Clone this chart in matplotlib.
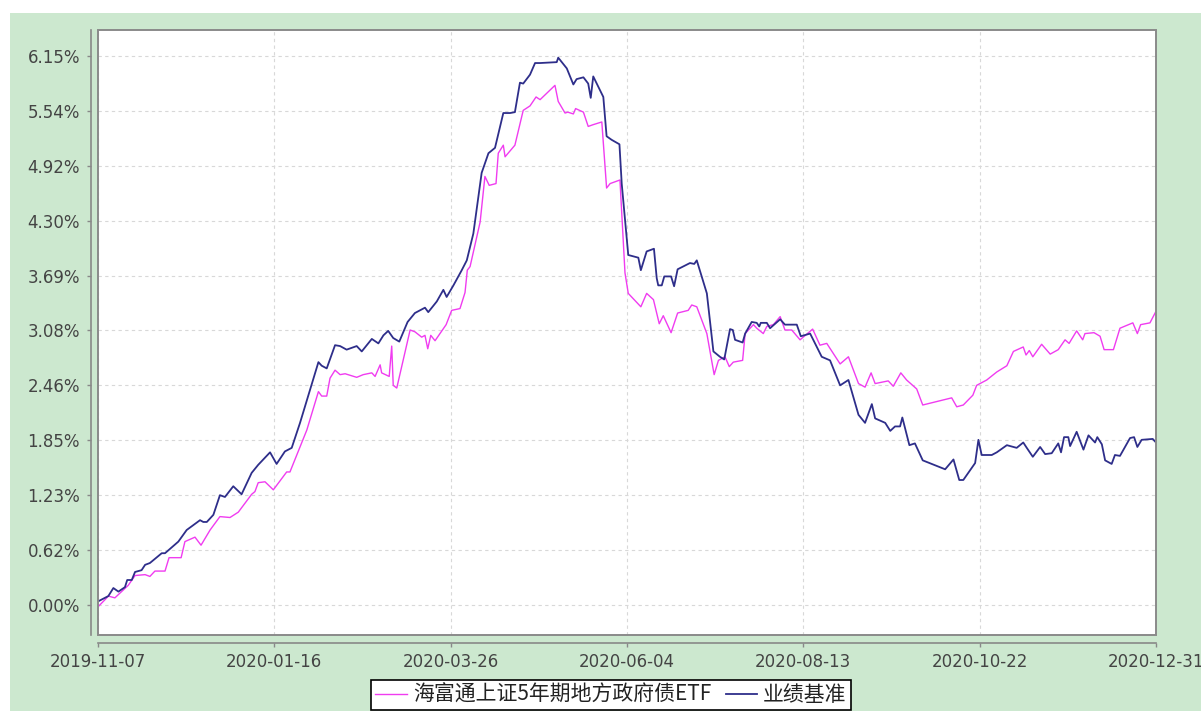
import numpy as np
import pandas as pd
import matplotlib
matplotlib.use('Agg')
import matplotlib.pyplot as plt
import matplotlib.dates as mdates
from matplotlib.patches import Rectangle

plt.rcParams['font.family'] = ['DejaVu Sans', 'Noto Sans CJK SC']

start = pd.Timestamp('2019-11-07')
end = pd.Timestamp('2020-12-31')

# days since 2019-11-07, cumulative return in %
fund_days = [0, 2.8, 4.1, 6.7, 12.0, 14.7, 18.7, 20.6, 22.6, 26.6, 28.2, 33.0, 34.5, 38.5, 40.9,
             44.5, 48.4, 52.4, 55.7, 61.0, 62.3, 63.6, 66.3, 69.6, 74.9, 76.2, 82.9, 87.5, 88.8,
             90.8, 92.1, 94.1, 96.1, 98.1, 102.7, 105.3, 108.7, 110.0, 112.0, 112.6, 115.6, 116.6,
             117.2, 118.6, 123.9, 125.8, 128.5, 129.8, 130.9, 132.1, 133.8, 138.2, 140.4, 143.7,
             145.7, 146.6, 147.7, 151.7, 153.6, 155.3, 158.0, 158.9, 160.9, 161.6, 165.5, 168.8,
             171.5, 173.9, 175.5, 181.4, 182.7, 185.4, 186.5, 188.7, 189.6, 192.7, 194.6, 196.6,
             200.0, 201.9, 203.3, 207.2, 209.2, 210.5, 215.5, 217.8, 220.5, 222.8, 224.4, 227.5,
             230.1, 234.3, 235.7, 237.7, 241.7, 244.6, 246.3, 248.9, 250.6, 252.2, 255.9, 256.9,
             260.2, 261.5, 264.1, 265.5, 268.1, 270.8, 272.7, 275.4, 278.7, 283.7, 286.6, 289.3,
             294.6, 297.9, 301.9, 304.5, 306.9, 308.5, 313.7, 315.7, 318.7, 321.0, 325.0, 327.4,
             338.9, 340.9, 343.5, 347.3, 348.8, 352.8, 356.8, 360.8, 363.4, 367.3, 368.4, 369.7,
             371.1, 374.6, 378.0, 381.2, 383.9, 385.5, 388.5, 390.9, 391.8, 395.4, 397.8, 399.4,
             403.1, 405.7, 410.8, 412.6, 413.9, 417.6, 420.0]
fund_vals = [-0.02, 0.06, 0.10, 0.08, 0.22, 0.33, 0.34, 0.32, 0.38, 0.38, 0.53, 0.53, 0.71, 0.76, 0.67,
             0.84, 0.99, 0.98, 1.04, 1.24, 1.27, 1.37, 1.38, 1.29, 1.49, 1.49, 1.96, 2.39, 2.34,
             2.34, 2.54, 2.63, 2.58, 2.59, 2.55, 2.58, 2.60, 2.56, 2.69, 2.60, 2.56, 2.90,
             2.46, 2.43, 3.08, 3.06, 3.00, 3.02, 2.87, 3.02, 2.96, 3.14, 3.30, 3.32,
             3.50, 3.75, 3.79, 4.29, 4.80, 4.70, 4.72, 5.06, 5.15, 5.02, 5.15, 5.54,
             5.59, 5.69, 5.66, 5.82, 5.64, 5.51, 5.52, 5.50, 5.56, 5.52, 5.36, 5.38,
             5.41, 4.67, 4.72, 4.76, 3.72, 3.49, 3.34, 3.49, 3.42, 3.15, 3.24, 3.05,
             3.27, 3.30, 3.36, 3.34, 3.04, 2.58, 2.74, 2.78, 2.67, 2.72, 2.74, 3.04,
             3.14, 3.10, 3.04, 3.12, 3.14, 3.23, 3.08, 3.08, 2.97, 3.09, 2.91, 2.93,
             2.70, 2.78, 2.48, 2.44, 2.60, 2.48, 2.51, 2.45, 2.60, 2.52, 2.42, 2.24,
             2.32, 2.22, 2.24, 2.35, 2.46, 2.52, 2.61, 2.68, 2.84, 2.89, 2.80, 2.85,
             2.78, 2.92, 2.81, 2.86, 2.97, 2.93, 3.07, 2.97, 3.04, 3.05, 3.01, 2.86,
             2.86, 3.10, 3.16, 3.04, 3.14, 3.16, 3.29]

bench_days = [0, 4.1, 6.1, 8.1, 10.7, 11.6, 13.4, 14.7, 17.3, 18.7, 20.6, 25.3, 26.6, 31.9, 35.2,
              40.5, 41.8, 43.2, 45.8, 48.4, 50.4, 53.7, 57.0, 61.0, 63.6, 68.3, 70.9, 74.2, 76.9,
              80.2, 87.5, 88.8, 90.8, 94.1, 96.1, 98.7, 102.7, 104.7, 108.7, 111.3, 113.3, 115.2,
              117.2, 119.6, 122.9, 125.8, 129.8, 131.1, 134.5, 137.1, 138.4, 141.1, 144.4, 146.4,
              149.0, 152.3, 155.0, 157.6, 160.9, 163.6, 165.5, 167.5, 168.8, 171.5, 173.5, 175.5,
              182.1, 182.7, 186.1, 188.7, 190.0, 192.7, 194.6, 195.6, 196.6, 200.6, 201.9, 203.9,
              207.0, 207.9, 210.5, 214.5, 215.5, 217.8, 220.7, 221.8, 222.4, 223.8, 224.8, 227.5,
              228.7, 230.1, 235.0, 236.7, 237.7, 241.7, 244.3, 246.9, 248.6, 250.9, 252.0, 252.9,
              255.9, 256.9, 259.5, 261.5, 262.5, 263.1, 265.5, 266.8, 270.8, 272.7, 277.4, 279.0,
              282.7, 287.3, 290.6, 294.6, 297.9, 301.9, 304.5, 307.2, 308.5, 312.5, 314.5, 316.4,
              318.4, 319.3, 322.1, 324.3, 327.4, 336.3, 339.6, 341.9, 343.5, 348.2, 349.5, 350.8,
              354.8, 356.8, 360.8, 364.7, 367.3, 368.7, 371.1, 374.0, 376.0, 378.6, 381.2, 382.3,
              383.5, 385.2, 385.9, 388.5, 391.2, 393.2, 395.8, 396.7, 398.5, 399.8, 402.4, 403.7,
              405.7, 409.7, 411.3, 412.6, 414.3, 418.7, 420.0]
bench_vals = [0.04, 0.10, 0.19, 0.15, 0.20, 0.28, 0.28, 0.37, 0.39, 0.45, 0.47, 0.58, 0.58, 0.71, 0.84,
              0.95, 0.93, 0.93, 1.01, 1.23, 1.21, 1.33, 1.24, 1.48, 1.57, 1.71, 1.58, 1.72, 1.76,
              2.04, 2.72, 2.68, 2.65, 2.91, 2.90, 2.86, 2.90, 2.84, 2.98, 2.93, 3.02, 3.07,
              2.99, 2.95, 3.17, 3.27, 3.33, 3.28, 3.40, 3.53, 3.45, 3.58, 3.75, 3.86,
              4.16, 4.84, 5.06, 5.12, 5.51, 5.51, 5.52, 5.85, 5.84, 5.94, 6.07, 6.07,
              6.08, 6.13, 6.01, 5.83, 5.89, 5.91, 5.84, 5.68, 5.92, 5.69, 5.25, 5.21,
              5.16, 4.72, 3.92, 3.89, 3.75, 3.96, 3.99, 3.66, 3.58, 3.58, 3.68, 3.68,
              3.57, 3.76, 3.83, 3.82, 3.86, 3.49, 2.84, 2.78, 2.75, 3.09, 3.08, 2.97,
              2.94, 3.04, 3.17, 3.16, 3.12, 3.16, 3.16, 3.10, 3.20, 3.14, 3.14, 3.01,
              3.04, 2.78, 2.74, 2.46, 2.52, 2.13, 2.04, 2.25, 2.09, 2.04, 1.95, 2.00,
              2.00, 2.10, 1.79, 1.81, 1.62, 1.52, 1.63, 1.40, 1.40, 1.59, 1.85, 1.68,
              1.68, 1.71, 1.79, 1.76, 1.82, 1.76, 1.66, 1.77, 1.69, 1.70, 1.81, 1.71,
              1.88, 1.88, 1.78, 1.94, 1.74, 1.90, 1.82, 1.88, 1.80, 1.62, 1.58, 1.68,
              1.67, 1.87, 1.88, 1.77, 1.85, 1.86, 1.82]

ytick_vals = [0.0, 0.615, 1.23, 1.845, 2.46, 3.075, 3.69, 4.305, 4.92, 5.535, 6.15]
ytick_labels = ['0.00%', '0.62%', '1.23%', '1.85%', '2.46%', '3.08%', '3.69%', '4.30%',
                '4.92%', '5.54%', '6.15%']
xtick_labels = ['2019-11-07', '2020-01-16', '2020-03-26', '2020-06-04', '2020-08-13',
                '2020-10-22', '2020-12-31']
legend_names = ['海富通上证5年期地方政府债ETF', '业绩基准']

fund_x = start + pd.to_timedelta(fund_days, unit='D')
bench_x = start + pd.to_timedelta(bench_days, unit='D')

fig = plt.figure(figsize=(12.01, 7.11), dpi=100, facecolor='white')
fig.patches.append(Rectangle((10 / 1201, 0), 1, 1 - 13 / 711, transform=fig.transFigure,
                             facecolor='#CCE8CF', edgecolor='none', zorder=-10))

ax = fig.add_axes([98 / 1201, 1 - 635 / 711, 1058 / 1201, 605 / 711])
ax.set_facecolor('white')

ax.plot(fund_x, fund_vals, color='#F03CF0', lw=1.0, label=legend_names[0])
ax.plot(bench_x, bench_vals, color='#2E2E8A', lw=1.3, label=legend_names[1])

ax.set_xlim(start, end)
ax.set_ylim(-0.336, 6.44)

ax.set_yticks(ytick_vals)
ax.set_yticklabels(ytick_labels)
ax.set_xticks(pd.to_datetime(xtick_labels))
ax.set_xticklabels(xtick_labels)

ax.grid(True, color='#D8D8D8', linestyle=(0, (3, 3)), lw=0.8)

for s in ['top', 'right']:
    ax.spines[s].set_visible(False)
ax.spines['left'].set_position(('outward', 5))
ax.spines['bottom'].set_position(('outward', 6))
for s in ['left', 'bottom']:
    ax.spines[s].set_color('#888888')
    ax.spines[s].set_linewidth(1.2)
ax.add_patch(Rectangle((0, 0), 1, 1, transform=ax.transAxes, fill=False,
                       edgecolor='#8A8A8A', lw=1.4, clip_on=False, zorder=5))

ax.tick_params(axis='both', colors='#888888', labelcolor='#444444', labelsize=12,
               length=3, width=1)
ax.tick_params(axis='y', pad=5)
ax.tick_params(axis='x', pad=4)

leg = ax.legend(loc='upper center', bbox_to_anchor=(611 / 1201, 1 - 680 / 711),
                bbox_transform=fig.transFigure, ncol=2, frameon=True, fancybox=False,
                edgecolor='black', framealpha=1, borderpad=0.2, borderaxespad=0,
                handlelength=1.5, handletextpad=0.3, columnspacing=0.7,
                prop={'family': ['Noto Sans CJK SC', 'DejaVu Sans'], 'size': 15})
leg.get_frame().set_linewidth(1.2)
for t in leg.get_texts():
    t.set_color('#222222')

fig.savefig('out.png', dpi=100, facecolor='white')
